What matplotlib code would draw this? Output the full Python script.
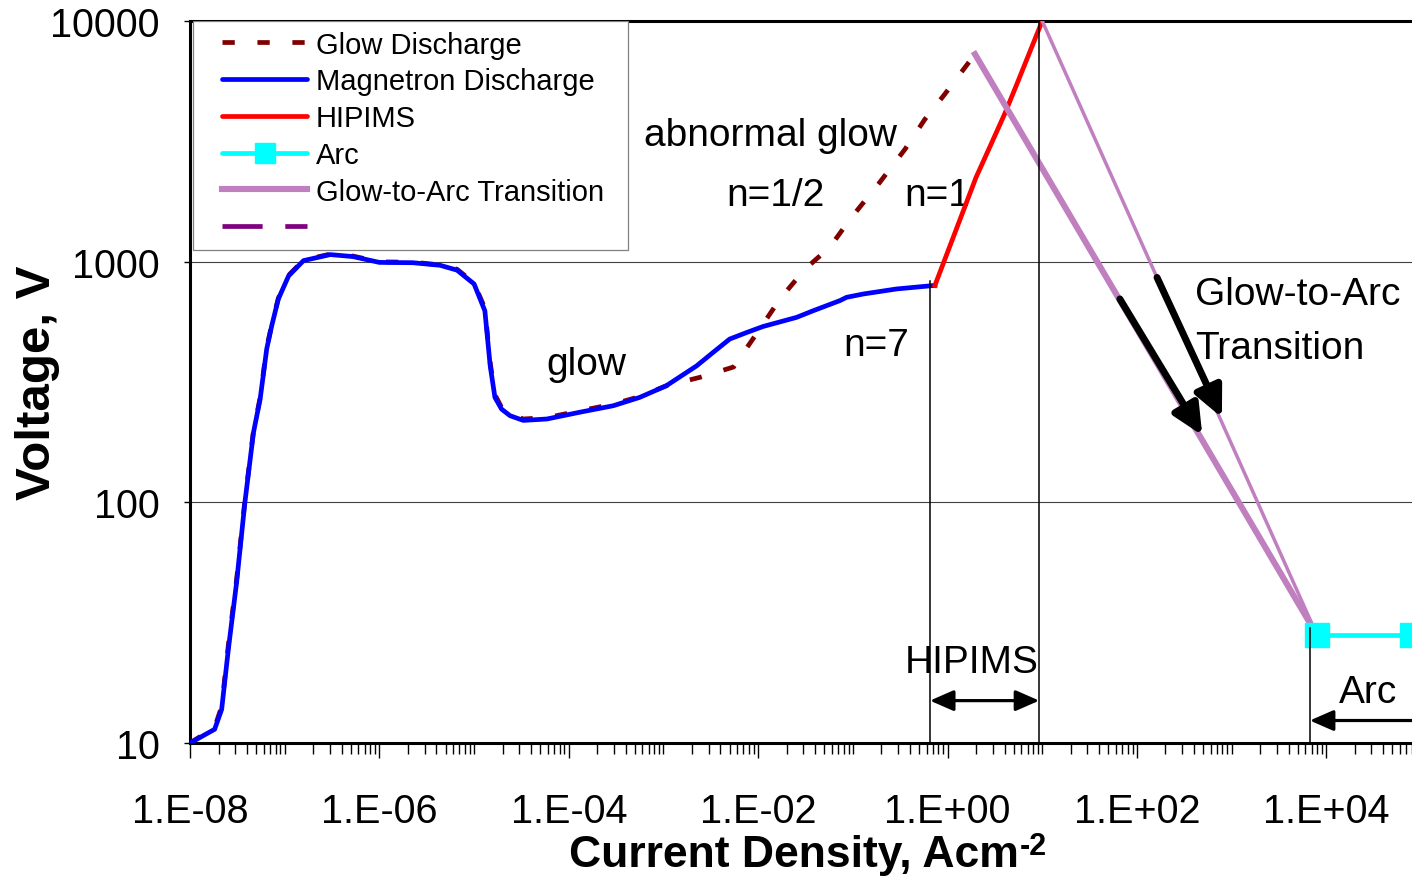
import numpy as np
import matplotlib
matplotlib.use("Agg")
import matplotlib.pyplot as plt
from matplotlib.lines import Line2D
from matplotlib.patches import Rectangle
from matplotlib.ticker import FixedLocator, FuncFormatter, LogLocator, NullLocator

plt.rcParams['font.family'] = ['Liberation Sans', 'DejaVu Sans']

# ---------------- data ----------------
magnetron_j = [1.0e-8, 1.82e-8, 2.16e-8, 2.54e-8, 3.11e-8, 3.80e-8, 4.68e-8, 5.50e-8,
               6.46e-8, 7.30e-8, 8.57e-8, 1.10e-7, 1.58e-7, 3.02e-7, 5.25e-7, 1.0e-6,
               2.26e-6, 4.37e-6, 6.61e-6, 1.0e-5, 1.30e-5, 1.48e-5, 1.66e-5, 1.95e-5,
               2.40e-5, 3.31e-5, 5.89e-5, 1.32e-4, 2.95e-4, 5.62e-4, 1.07e-3, 2.24e-3,
               3.35e-3, 5.01e-3, 7.59e-3, 1.13e-2, 2.55e-2, 3.80e-2, 7.31e-2, 8.59e-2,
               0.129, 0.288, 0.736]
magnetron_v = [10, 11.4, 13.8, 24.5, 46.7, 100, 195, 268,
               434, 542, 700, 873, 1010, 1070, 1050, 993,
               990, 966, 922, 808, 625, 369, 273, 244,
               229, 219, 222, 237, 252, 273, 305, 369,
               420, 477, 508, 538, 587, 625, 689, 711,
               734, 770, 797]

glow_j = [1.0e-8, 1.82e-8, 2.16e-8, 2.54e-8, 3.11e-8, 3.80e-8, 4.68e-8, 5.50e-8,
          6.46e-8, 7.30e-8, 8.57e-8, 1.10e-7, 1.58e-7, 3.02e-7, 5.25e-7, 1.0e-6,
          2.26e-6, 4.37e-6, 6.61e-6, 1.0e-5, 1.30e-5, 1.48e-5, 1.66e-5, 1.95e-5,
          2.40e-5, 3.31e-5, 5.89e-5, 1.32e-4, 2.95e-4, 5.62e-4, 1.07e-3, 2.45e-3,
          5.5e-3, 1.04e-2, 1.70e-2, 3.12e-2, 5.73e-2, 9.33e-2, 0.193, 0.355,
          0.575, 0.933, 1.95]
glow_v = [10, 11.6, 14.2, 25.5, 48, 102, 198, 272,
          440, 548, 705, 878, 1015, 1075, 1055, 998,
          995, 970, 930, 815, 640, 380, 280, 248,
          232, 222, 225, 240, 256, 275, 305, 331,
          365, 525, 700, 931, 1150, 1500, 2140, 2930,
          3900, 4960, 7280]

hipims_j = [0.736, 2.0, 2.8, 4.0, 5.4, 10.0]
hipims_v = [797, 2240, 3000, 4100, 5470, 10000]

arc_j = [8000, 80000]
arc_v = [28, 28]

transition1_j = [1.95, 8000]
transition1_v = [7280, 28]
transition2_j = [10.0, 8000]
transition2_v = [10000, 28]

x_major = [1e-8, 1e-6, 1e-4, 1e-2, 1e0, 1e2, 1e4]
y_major = [10, 100, 1000, 10000]

legend_labels = ["Glow Discharge", "Magnetron Discharge", "HIPIMS", "Arc",
                 "Glow-to-Arc Transition", ""]

# ---------------- figure ----------------
W, H = 1412, 878
fig = plt.figure(figsize=(W / 100, H / 100), dpi=100)
ax = fig.add_axes([190 / W, 134 / H, 1231 / W, 722 / H])
ax.set_xscale('log')
ax.set_yscale('log')
ax.set_xlim(1e-8, 1e5)
ax.set_ylim(10, 10000)

DARKRED = '#800000'
PLUM = '#C080C0'
PURPLE = '#800080'
LW = 3.4

ax.plot(glow_j, glow_v, color=DARKRED, lw=LW, dashes=(2.6, 4.8), zorder=3)
ax.plot(magnetron_j, magnetron_v, color='#0000FF', lw=LW, zorder=4,
        solid_joinstyle='round')
ax.plot(hipims_j, hipims_v, color='#FF0000', lw=LW, zorder=4)
ax.plot(transition1_j, transition1_v, color=PLUM, lw=4.4, zorder=5)
ax.plot(transition2_j, transition2_v, color=PLUM, lw=2.5, zorder=5)
ax.plot(arc_j, arc_v, color='#00FFFF', lw=LW, marker='s', markersize=17,
        zorder=6, clip_on=False)

# vertical guide lines
ax.plot([0.652, 0.652], [830, 10], color='black', lw=1.1, zorder=7)
ax.plot([9.3, 9.3], [10000, 10], color='black', lw=1.1, zorder=7)
ax.plot([6700, 6700], [30, 10], color='black', lw=1.1, zorder=7)

# arrows along the transitions
arrow_style = '-|>,head_length=0.7,head_width=0.33'
ax.annotate('', xy=(490, 190), xytext=(66, 700),
            arrowprops=dict(arrowstyle=arrow_style, color='black', lw=5,
                            mutation_scale=26, shrinkA=0, shrinkB=0), zorder=8)
ax.annotate('', xy=(790, 225), xytext=(163, 860),
            arrowprops=dict(arrowstyle=arrow_style, color='black', lw=5,
                            mutation_scale=26, shrinkA=0, shrinkB=0), zorder=8)

# HIPIMS range arrow
ax.annotate('', xy=(0.652, 15.0), xytext=(9.3, 15.0),
            arrowprops=dict(arrowstyle='<|-|>,head_length=0.8,head_width=0.35',
                            color='black', lw=2.3, mutation_scale=18,
                            shrinkA=0, shrinkB=0), zorder=8)
# Arc range arrow
ax.annotate('', xy=(6700, 12.4), xytext=(1.2e5, 12.4),
            arrowprops=dict(arrowstyle='-|>,head_length=0.8,head_width=0.35',
                            color='black', lw=2.3, mutation_scale=18,
                            shrinkA=0, shrinkB=0), zorder=8)

# text annotations
tfs = 28
ax.text(0.0136, 3350, 'abnormal glow', fontsize=tfs, ha='center', va='center')
ax.text(0.0151, 1890, 'n=1/2', fontsize=tfs, ha='center', va='center')
ax.text(0.773, 1890, 'n=1', fontsize=tfs, ha='center', va='center')
ax.text(1.55e-4, 375, 'glow', fontsize=tfs, ha='center', va='center')
ax.text(0.175, 450, 'n=7', fontsize=tfs, ha='center', va='center')
ax.text(414, 734, 'Glow-to-Arc', fontsize=tfs, ha='left', va='center')
ax.text(414, 438, 'Transition', fontsize=tfs, ha='left', va='center')
ax.text(1.81, 21.7, 'HIPIMS', fontsize=tfs, ha='center', va='center')
ax.text(2.75e4, 16.3, 'Arc', fontsize=tfs, ha='center', va='center')

# axes styling
for side in ['left', 'bottom', 'top']:
    ax.spines[side].set_linewidth(2.2)
ax.spines['right'].set_visible(False)

ax.xaxis.set_major_locator(FixedLocator(x_major))
ax.xaxis.set_minor_locator(LogLocator(base=10, subs=np.arange(1, 10), numticks=100))
ax.xaxis.set_major_formatter(FuncFormatter(lambda v, p: f"1.E{int(round(np.log10(v))):+03d}"))
ax.xaxis.set_minor_formatter(FuncFormatter(lambda v, p: ""))
ax.yaxis.set_major_locator(FixedLocator(y_major))
ax.yaxis.set_minor_locator(NullLocator())
ax.yaxis.set_major_formatter(FuncFormatter(lambda v, p: f"{int(round(v))}"))

ax.tick_params(axis='x', which='major', direction='out', length=10.5, width=1,
               labelsize=28.5, pad=25, top=False)
ax.tick_params(axis='x', which='minor', direction='out', length=8, width=1, top=False)
ax.tick_params(axis='y', which='major', direction='out', length=4, width=1,
               labelsize=28.5, pad=18, right=False)

ax.yaxis.grid(True, which='major', color='#404040', lw=0.8, zorder=0)
ax.set_axisbelow(True)

# axis labels
ax.set_xlabel('Current Density, Acm', fontsize=32, fontweight='bold')
ax.xaxis.set_label_coords((793.5 - 190) / 1231, (744 - 835) / 722)
ax.annotate('-2', xy=(1, 1), xycoords=ax.xaxis.label, xytext=(1, 2),
            textcoords='offset points', ha='left', va='top', fontsize=22,
            fontweight='bold')
ax.set_ylabel('Voltage, V', fontsize=35.5, fontweight='bold')
ax.yaxis.set_label_coords((60 - 190) / 1231, 0.5)

# legend
rect = Rectangle((3 / 1231, (744 - 251) / 722), 435 / 1231, 229 / 722,
                 transform=ax.transAxes, facecolor='white', edgecolor='#808080',
                 lw=0.9, zorder=9)
ax.add_patch(rect)
handles = [
    Line2D([], [], color=DARKRED, lw=LW, dashes=(2.6, 4.8)),
    Line2D([], [], color='#0000FF', lw=LW, solid_capstyle='round'),
    Line2D([], [], color='#FF0000', lw=LW, solid_capstyle='round'),
    Line2D([], [], color='#00FFFF', lw=LW, marker='s', markersize=14, solid_capstyle='round'),
    Line2D([], [], color=PLUM, lw=4.4),
    Line2D([], [], color=PURPLE, lw=LW, dashes=(8.5, 4.8)),
]
leg = ax.legend(handles, legend_labels, frameon=False, loc='upper left',
                bbox_to_anchor=((222 - 190) / 1231, (744 - 31.5) / 722),
                borderpad=0, borderaxespad=0, fontsize=21, handlelength=2.93,
                handletextpad=0.28, labelspacing=0.30, markerscale=1.0)
leg.set_zorder(10)

fig.savefig('out.png', dpi=100)
